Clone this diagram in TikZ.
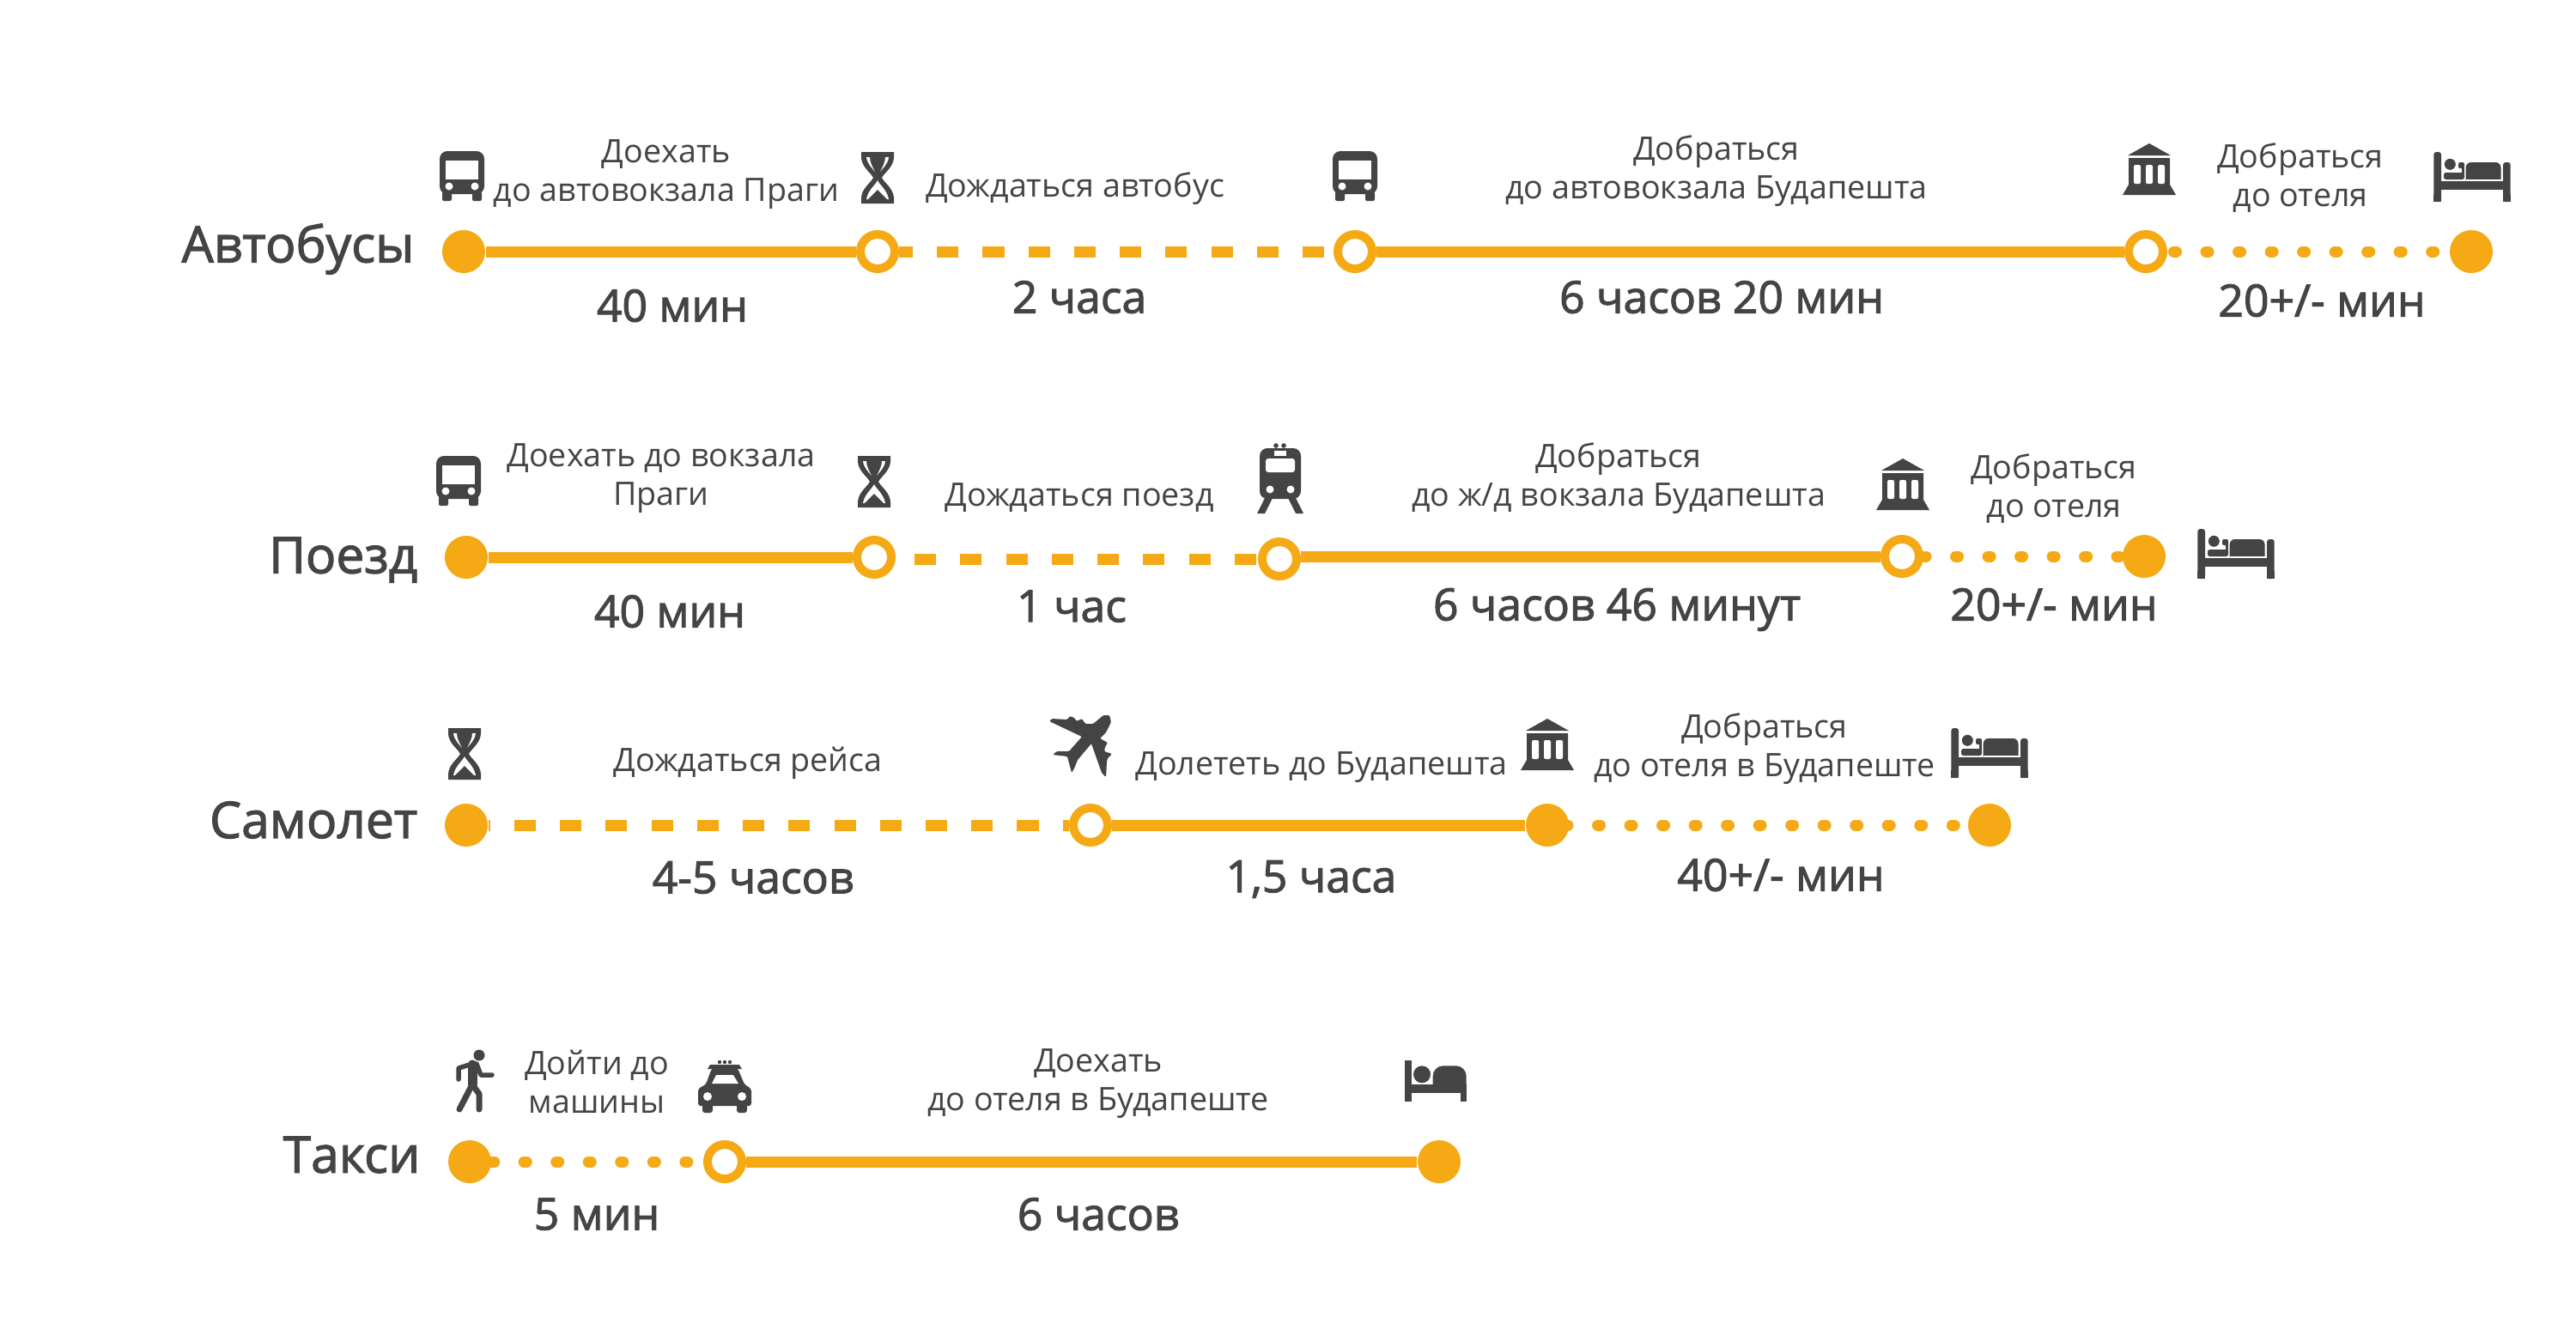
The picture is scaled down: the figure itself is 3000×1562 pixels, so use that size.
\documentclass[tikz,border=0pt]{standalone}
\usepackage{fontspec}
\setmainfont{Open Sans}
\newfontfamily\semifont[FakeBold=2]{Open Sans}
\definecolor{amber}{HTML}{F5A915}
\definecolor{ink}{HTML}{444444}
\tikzset{
  x=0.01cm,y=-0.01cm,
  dotfull/.style={circle,fill=amber,inner sep=0pt,minimum size=0.5cm},
  dotring/.style={circle,draw=amber,fill=white,line width=0.1cm,inner sep=0pt,minimum size=0.4cm},
  solidlink/.style={draw=amber,line width=0.13cm},
  dashlink/.style={draw=amber,line width=0.13cm,dash pattern=on 0.25cm off 0.282cm},
  dotlink/.style={draw=amber,line width=0.13cm,line cap=round,dash pattern=on 0.03cm off 0.345cm},
  lab/.style={text=ink,align=center,inner sep=0pt,font=\fontsize{10.7}{12.8}\selectfont},
  dur/.style={text=ink,align=center,inner sep=0pt,font=\fontsize{14.7}{16}\semifont},
  ttl/.style={text=ink,anchor=east,inner sep=0pt,font=\fontsize{16.7}{18}\semifont},
  busicon/.pic={
    \fill[ink,rounded corners=0.09cm] (-26,-29) rectangle (26,21);
    \fill[ink,rounded corners=0.02cm] (-23,18) rectangle (-12,29);
    \fill[ink,rounded corners=0.02cm] (12,18) rectangle (23,29);
    \fill[white] (-19,-18) rectangle (19,4);
    \fill[white] (-15,12) circle[radius=0.045cm];
    \fill[white] (15,12) circle[radius=0.045cm];
  },
  glassicon/.pic={
    \fill[ink] (-19,-30) -- (19,-30) -- (19,-23) .. controls (18,-12) and (8,-6) .. (5,0) .. controls (8,6) and (18,12) .. (19,23) -- (19,30) -- (-19,30) -- (-19,23) .. controls (-18,12) and (-8,6) .. (-5,0) .. controls (-8,-6) and (-18,-12) .. (-19,-23) -- (-19,-30) -- cycle;
    \fill[white] (0,3) .. controls (2,8) and (11,14) .. (13,25) -- (-13,25) .. controls (-11,14) and (-2,8) .. (0,3) -- cycle;
    \fill[ink] (0,14) -- (12,26) -- (-12,26) -- cycle;
    \fill[white] (-13,-24) .. controls (-12,-16) and (-6,-11) .. (-3,-7) .. controls (-6,-13) and (-9,-18) .. (-9,-24) -- cycle;
    \fill[white] (13,-24) .. controls (12,-16) and (6,-11) .. (3,-7) .. controls (6,-13) and (9,-18) .. (9,-24) -- cycle;
  },
  museumicon/.pic={
    \fill[ink] (0,-30) -- (25,-16) -- (-25,-16) -- cycle;
    \fill[ink] (-24,-13) -- (24,-13) -- (24,18) -- (31,30) -- (-31,30) -- (-24,18) -- cycle;
    \fill[white,rounded corners=0.02cm] (-18,-5) rectangle (-10,17);
    \fill[white,rounded corners=0.02cm] (-4,-5) rectangle (4,17);
    \fill[white,rounded corners=0.02cm] (10,-5) rectangle (18,17);
  },
  bedicon/.pic={
    \fill[ink,rounded corners=0.03cm] (-44.7,-29) rectangle (-36,29);
    \fill[ink,rounded corners=0.03cm] (36,-17) rectangle (44.7,29);
    \fill[ink] (-44.7,29) rectangle (-36,20);
    \fill[ink] (44.7,29) rectangle (36,20);
    \fill[ink] (-36,5) rectangle (36,15);
    \fill[ink] (-25.7,-14.7) circle[radius=0.065cm];
    \fill[ink,rounded corners=0.025cm] (-33,-5) rectangle (-9,3);
    \fill[ink,rounded corners=0.02cm] (-16,-17) rectangle (-9,-10);
    \fill[ink] (-12.5,-14) rectangle (-9,-2);
    \fill[ink,rounded corners=0.06cm] (-7.3,-17) -- (33.5,-17) -- (33.5,10) -- (-7.3,10) -- cycle;
    \fill[white] (-7.5,3) rectangle (34,5);
  },
  bedalticon/.pic={
    \fill[ink] (-35.7,-24.3) rectangle (-28.3,24);
    \fill[ink] (-16,-7.7) circle[radius=0.1cm];
    \fill[ink,rounded corners=0.12cm] (-3.3,-17.7) -- (35.7,-17.7) -- (35.7,20) -- (-3.3,20) -- cycle;
    \fill[ink] (-28.3,4) rectangle (35.7,14);
    \fill[white] (-4,14) rectangle (36,21);
    \fill[ink] (29.3,13) rectangle (35.7,24);
  },
  trainicon/.pic={
    \fill[ink] (-5,-38) circle[radius=0.028cm];
    \fill[ink] (4,-38) circle[radius=0.028cm];
    \fill[ink,rounded corners=0.09cm] (-24,-35) rectangle (24,24);
    \fill[white] (-7,-32) rectangle (7,-26);
    \fill[white,rounded corners=0.03cm] (-17,-23) rectangle (17,-7);
    \fill[white] (-12,13) circle[radius=0.045cm];
    \fill[white] (12,13) circle[radius=0.045cm];
    \fill[ink] (-18,23) -- (-9,23) -- (-18,41) -- (-27,41) -- cycle;
    \fill[ink] (18,23) -- (9,23) -- (18,41) -- (27,41) -- cycle;
  },
  planeicon/.pic={
    \fill[ink,rounded corners=0.012cm] (34,-35) -- (36,-27) -- (30,-15) -- (23,-8) -- (32,-3) -- (29,2) -- (28,7) -- (37,10) -- (32,15) -- (31,19) -- (30,37) -- (25,32) -- (13,-2) -- (-3,17) -- (-7,27) -- (-10,32) -- (-15,13) -- (-32,11) -- (-27,7) -- (-13,7) -- (2,-10) -- (-36,-28) -- (-33,-31) -- (-15,-30) -- (-12,-34) -- (-7,-32) -- (-4,-28) -- (2,-31) -- (6,-25) -- (15,-25) -- (27,-35) -- cycle;
  },
  walkicon/.pic={
    \fill[ink] (5,-30) circle[radius=0.065cm];
    \draw[ink,line width=0.11cm,line cap=round] (-3,-19) -- (-3,4);
    \draw[ink,line width=0.055cm,line cap=round,line join=round] (-19,-2) -- (-19,-15) -- (-3,-20);
    \draw[ink,line width=0.055cm,line cap=round,line join=round] (2,-20) -- (7,-7) -- (20,-7);
    \draw[ink,line width=0.07cm,line cap=round,line join=round] (-3,4) -- (-18,33);
    \draw[ink,line width=0.07cm,line cap=round,line join=round] (-3,4) -- (5,15) -- (5,33);
  },
  taxiicon/.pic={
    \fill[ink] (-6,-28) circle[radius=0.022cm];
    \fill[ink] (0,-28) circle[radius=0.022cm];
    \fill[ink] (6,-28) circle[radius=0.022cm];
    \fill[ink] (-17,-25) -- (17,-25) -- (20,-20) -- (-20,-20) -- cycle;
    \fill[ink,rounded corners=0.03cm] (-22,-2) -- (-15,-21) -- (15,-21) -- (23,-2) -- (31,3) -- (31,23) -- (-31,23) -- (-31,3) -- cycle;
    \fill[ink,rounded corners=0.03cm] (-26,18) rectangle (-14,31);
    \fill[ink,rounded corners=0.03cm] (14,18) rectangle (26,31);
    \fill[white] (-15,-3) -- (-10,-13) -- (10,-13) -- (16,-3) -- cycle;
    \fill[white] (-20,12) circle[radius=0.05cm];
    \fill[white] (20,12) circle[radius=0.05cm];
  },
}
\begin{document}
\begin{tikzpicture}
\useasboundingbox[fill=white] (0,0) rectangle (3000,1562);

% Row 1
\node[ttl] (t1) at (483,290) {Автобусы};
\node[dotfull] (a1) at (540,293) {};
\node[dotring] (a2) at (1022,293) {};
\node[dotring] (a3) at (1578,293) {};
\node[dotring] (a4) at (2499,293) {};
\node[dotfull] (a5) at (2878,293) {};
\draw[solidlink] (a1) -- (a2);
\draw[dashlink,dash phase=0.09cm] (a2) -- (a3);
\draw[solidlink] (a3) -- (a4);
\draw[dotlink,dash phase=0.30cm] (a4) -- (a5);
\pic at (538,205) {busicon};
\pic at (1022,207) {glassicon};
\pic at (1578,205) {busicon};
\pic at (2503,197) {museumicon};
\pic at (2879,206) {bedicon};
\node[lab] (l11) at (776,203) {Доехать\\до автовокзала Праги};
\node[lab] (l12) at (1252,220) {Дождаться автобус};
\node[lab] (l13) at (1999,199) {Добраться\\до автовокзала Будапешта};
\node[lab] (l14) at (2679,207) {Добраться\\до отеля};
\node[dur] (d11) at (783,356) {40 мин};
\node[dur] (d12) at (1257,346) {2 часа};
\node[dur] (d13) at (2005,346) {6 часов 20 мин};
\node[dur] (d14) at (2704,350) {20+/- мин};

% Row 2
\node[ttl] (t2) at (487,652) {Поезд};
\node[dotfull] (b1) at (543,649) {};
\node[dotring] (b2) at (1018,649) {};
\node[dotring] (b3) at (1490,651) {};
\node[dotring] (b4) at (2215,648) {};
\node[dotfull] (b5) at (2497,648) {};
\draw[solidlink] (b1) -- (b2);
\draw[dashlink,dash phase=0.31cm] (b2.east |- b3.center) -- (b3);
\draw[solidlink] (b3.east |- b4.center) -- (b4);
\draw[dotlink,dash phase=0cm] (b4) -- (b5);
\pic at (534,560) {busicon};
\pic at (1018,561) {glassicon};
\pic at (1491,557) {trainicon};
\pic at (2216,564) {museumicon};
\pic at (2604,645) {bedicon};
\node[lab] (l21) at (770,557) {Доехать до вокзала\\Праги};
\node[lab] (l22) at (1257,580) {Дождаться поезд};
\node[lab] (l23) at (1885,557) {Добраться\\до ж/д вокзала Будапешта};
\node[lab] (l24) at (2392,569) {Добраться\\до отеля};
\node[dur] (d21) at (780,712) {40 мин};
\node[dur] (d22) at (1248,706) {1 час};
\node[dur] (d23) at (1883,710) {6 часов 46 минут};
\node[dur] (d24) at (2392,704) {20+/- мин};

% Row 3
\node[ttl] (t3) at (487,955) {Самолет};
\node[dotfull] (c1) at (543,961) {};
\node[dotring] (c2) at (1270,961) {};
\node[dotfull] (c3) at (1802,961) {};
\node[dotfull] (c4) at (2317,961) {};
\draw[dashlink,dash phase=0.23cm] (c1) -- (c2);
\draw[solidlink] (c2) -- (c3);
\draw[dotlink,dash phase=0cm,shorten <=-0.047cm] (c3) -- (c4);
\pic at (541,878) {glassicon};
\pic at (1258,868) {planeicon};
\pic at (1802,867) {museumicon};
\pic at (2317,877) {bedicon};
\node[lab] (l31) at (871,889) {Дождаться рейса};
\node[lab] (l32) at (1539,894) {Долететь до Будапешта};
\node[lab] (l33) at (2055,872) {Добраться\\до отеля в Будапеште};
\node[dur] (d31) at (877,1022) {4-5 часов};
\node[dur] (d32) at (1527,1024) {1,5 часа};
\node[dur] (d33) at (2074,1019) {40+/- мин};

% Row 4
\node[ttl] (t4) at (490,1345) {Такси};
\node[dotfull] (e1) at (547,1353) {};
\node[dotring] (e2) at (844,1353) {};
\node[dotfull] (e3) at (1676,1353) {};
\draw[dotlink,dash phase=0cm] (e1) -- (e2);
\draw[solidlink] (e2) -- (e3);
\pic at (553,1259) {walkicon};
\pic at (844,1265) {taxiicon};
\pic at (1672,1259) {bedalticon};
\node[lab] (l41) at (695,1260) {Дойти до\\машины};
\node[lab] (l42) at (1279,1262) {Доехать\\до отеля в Будапеште};
\node[dur] (d41) at (695,1414) {5 мин};
\node[dur] (d42) at (1279,1414) {6 часов};
\end{tikzpicture}
\end{document}
